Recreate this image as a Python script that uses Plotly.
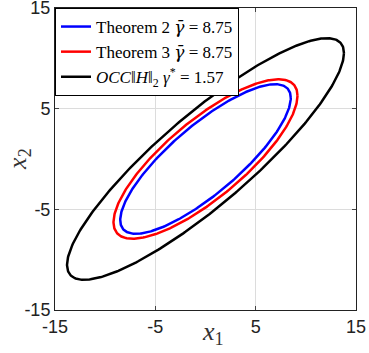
import numpy as np
import plotly.graph_objs as go

# ellipse extents (half widths along x1 / x2,
# and the x1 position of the topmost point)
gbar = '<span style="font-family:DejaVu Serif"><i>γ\u0304</i></span>'
names = ["Theorem 2 " + gbar + " = 8.75",
         "Theorem 3 " + gbar + " = 8.75",
         "<i>OCC</i>‖<i>H</i>‖<sub>2</sub> <i>γ</i><sup>*</sup> = 1.57"]
colors = ["#0000ff", "#ff0000", "#000000"]
half_x1 = [8.5, 9.17, 13.8]
half_x2 = [7.43, 7.92, 12.0]
top_x1 = [6.93, 7.27, 12.1]

tick_vals = [-15, -5, 5, 15]
tick_text = ["-15", "-5", "5", "15"]

t = np.linspace(0, 2 * np.pi, 400)
traces = []
for nm, c, hx, hy, tx in zip(names, colors, half_x1, half_x2, top_x1):
    m = np.array([[hx ** 2, tx * hy], [tx * hy, hy ** 2]])
    L = np.linalg.cholesky(m)
    pts = L @ np.vstack([np.cos(t), np.sin(t)])
    traces.append(go.Scatter(x=pts[0], y=pts[1], mode="lines", name=nm,
                             line=dict(color=c, width=2.5)))

ax = dict(range=[-15, 15], tickvals=tick_vals, ticktext=tick_text,
          ticks="inside", ticklen=4, automargin=False,
          ticklabeloverflow="allow",
          showline=True, linecolor="#222", linewidth=1, mirror="allticks",
          showgrid=True, gridcolor="#dcdcdc", gridwidth=1, zeroline=False,
          tickfont=dict(family="Liberation Sans", size=18, color="#222"))

layout = go.Layout(
    width=369, height=353, paper_bgcolor="white", plot_bgcolor="white",
    margin=dict(l=55, r=13, t=8, b=43),
    xaxis=dict(ax), yaxis=dict(ax),
    showlegend=True,
    legend=dict(x=0, y=1, xanchor="left", yanchor="top",
                bgcolor="white", bordercolor="black", borderwidth=1,
                font=dict(family="Liberation Serif", size=17, color="black"),
                tracegroupgap=0, itemwidth=30),
    annotations=[
        dict(text="<i>x</i><sub>1</sub>", xref="paper", yref="paper",
             x=0.525, y=-0.075, xanchor="center", yanchor="middle",
             showarrow=False,
             font=dict(family="Liberation Serif", size=26, color="#333")),
        dict(text="<i>x</i><sub>2</sub>", xref="paper", yref="paper",
             x=-0.12, y=0.5, xanchor="center", yanchor="middle",
             textangle=-90, showarrow=False,
             font=dict(family="Liberation Serif", size=26, color="#333")),
    ])

fig = go.Figure(data=traces, layout=layout)
fig.write_html("out.html", config={"displayModeBar": False},
               post_script="document.body.style.margin='0';")
